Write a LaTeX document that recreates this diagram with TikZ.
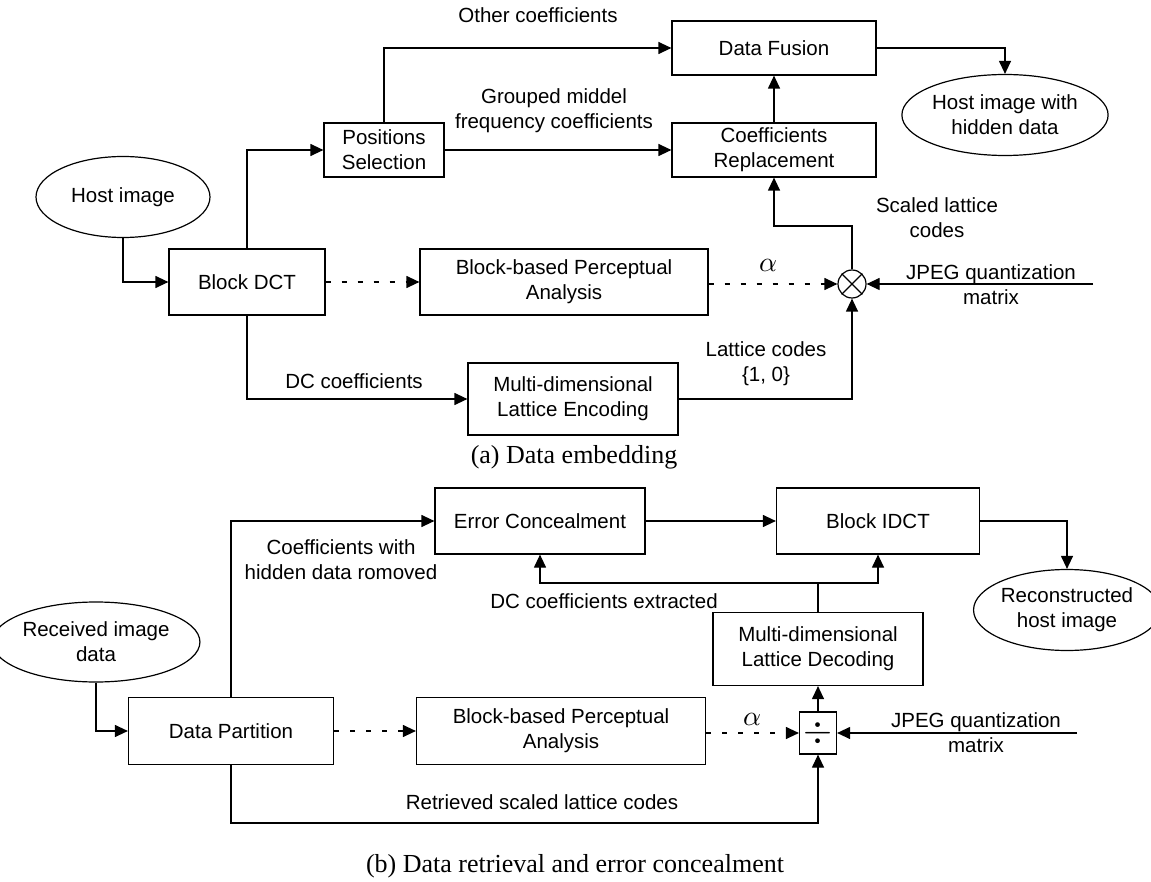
\documentclass[tikz,border=0pt]{standalone}
\usepackage{fontspec}
\setmainfont{Liberation Sans}
\newfontfamily\capfont{Liberation Serif}
\usetikzlibrary{arrows.meta,shapes.geometric}
\tikzset{
  lbl/.style={font=\fontsize{20.5}{25}\selectfont, align=center, inner sep=0pt},
  box/.style={draw, line width=1.2pt, font=\fontsize{20.5}{25}\selectfont, align=center, inner sep=0pt},
  oval/.style={draw, ellipse, line width=1.2pt, font=\fontsize{20.5}{25}\selectfont, align=center, inner sep=0pt},
  arr/.style={line width=1.2pt, -{Triangle[length=13pt,width=12pt]}},
  ln/.style={line width=1.2pt},
  dsh/.style={line width=1.2pt, dash pattern=on 5pt off 11pt, -{Triangle[length=13pt,width=12pt]}},
  captxt/.style={font={\capfont\fontsize{26}{30}\selectfont}, inner sep=0pt},
  alf/.style={inner sep=0pt}
}
\begin{document}
\begin{tikzpicture}[x=1pt,y=-1pt]
\useasboundingbox (0,0) rectangle (1151,882);
% ---------- (a) ----------
\node[oval, minimum width=174pt, minimum height=81pt] (host) at (123,197) {Host image};
\node[box, minimum width=156pt, minimum height=66pt] (dct) at (247,282) {Block DCT};
\node[box, minimum width=120pt, minimum height=54pt] (pos) at (384,150) {Positions\\Selection};
\node[box, minimum width=204pt, minimum height=54pt] (df) at (774,48) {Data Fusion};
\node[box, minimum width=204pt, minimum height=54pt] (cr) at (774,150) {Coefficients\\Replacement};
\node[oval, minimum width=174pt, minimum height=81pt] (hosthd) at (1005,115) {Host image with\\hidden data};
\node[box, minimum width=288pt, minimum height=66pt] (bpa) at (564,282) {Block-based Perceptual\\Analysis};
\node[draw, circle, line width=1.2pt, minimum size=28pt, inner sep=0pt] (ot) at (852,284) {};
\draw[line width=1.2pt] (ot.45) -- (ot.225) (ot.135) -- (ot.-45);
\node[box, minimum width=210pt, minimum height=72pt] (mle) at (573,399) {Multi-dimensional\\Lattice Encoding};
\coordinate (jq) at (1093,284);
\coordinate (k1) at (774,226);

\draw[arr] (host.south) |- (dct.west);
\draw[arr] (dct.north) |- (pos.west);
\draw[arr] (pos.north) |- (df.west);
\draw[arr] (pos.east) -- (cr.west);
\draw[arr] (cr.north) -- (df.south);
\draw[arr] (df.east) -| (hosthd.north);
\draw[dsh] (dct.east) -- (bpa.west);
\draw[dsh] (bpa.east |- ot.west) -- (ot.west);
\draw[arr] (jq) -- (ot.east);
\draw[arr] (ot.north) |- (k1) -- (cr.south);
\draw[arr] (dct.south) |- (mle.west);
\draw[arr] (mle.east) -| (ot.south);

\node[lbl] (l1) at (538,15) {Other coefficients};
\node[lbl] (l2) at (554,111) {Grouped middel\\frequency coefficients};
\node[lbl] (l3) at (937,218) {Scaled lattice\\codes};
\node[alf] (l4) at (768,265) {\scalebox{2.8}{$\alpha$}};
\node[lbl] (l5) at (991,285) {JPEG quantization\\matrix};
\node[lbl] (l6) at (354,381) {DC coefficients};
\node[lbl] (l7) at (766,364) {Lattice codes\\\{1, 0\}};
\node[captxt] (capa) at (574,457) {(a) Data embedding};

% ---------- (b) ----------
\node[box, minimum width=210pt, minimum height=66pt] (ec) at (540,521) {Error Concealment};
\node[box, minimum width=203pt, minimum height=66pt] (bidct) at (878,521) {Block IDCT};
\node[oval, minimum width=168pt, minimum height=81pt] (rhost) at (1067,610) {Reconstructed\\host image};
\node[oval, minimum width=174pt, minimum height=80pt] (rid) at (96,642) {Received image\\data};
\node[box, minimum width=205pt, minimum height=67pt] (dp) at (231,731) {Data Partition};
\node[box, minimum width=289pt, minimum height=67pt] (bpa2) at (561,731) {Block-based Perceptual\\Analysis};
\node[box, minimum width=37pt, minimum height=42pt] (div) at (818,733) {\scalebox{1.8}{$\div$}};
\node[box, minimum width=210pt, minimum height=73pt] (mld) at (818,649) {Multi-dimensional\\Lattice Decoding};
\coordinate (j) at (818,583);
\coordinate (jq2) at (1077,733);
\coordinate (k2) at (818,823);

\draw[arr] (dp.north) |- (ec.west);
\draw[arr] (ec.east) -- (bidct.west);
\draw[arr] (bidct.east) -| (rhost.north);
\draw[ln] (mld.north) -- (j);
\draw[arr] (j) -| (ec.south);
\draw[arr] (j) -| (bidct.south);
\draw[arr] (rid.south) |- (dp.west);
\draw[dsh] (dp.east) -- (bpa2.west);
\draw[dsh] (bpa2.east |- div.west) -- (div.west);
\draw[arr] (jq2) -- (div.east);
\draw[arr] (div.north) -- (mld.south);
\draw[arr] (dp.south) |- (k2) -- (div.south);

\node[lbl] (m1) at (341,560) {Coefficients with\\hidden data romoved};
\node[lbl] (m2) at (604,601) {DC coefficients extracted};
\node[alf] (m3) at (752,719) {\scalebox{2.8}{$\alpha$}};
\node[lbl] (m4) at (976,733) {JPEG quantization\\matrix};
\node[lbl] (m5) at (542,802) {Retrieved scaled lattice codes};
\node[captxt] (capb) at (575,866) {(b) Data retrieval and error concealment};
\end{tikzpicture}
\end{document}
